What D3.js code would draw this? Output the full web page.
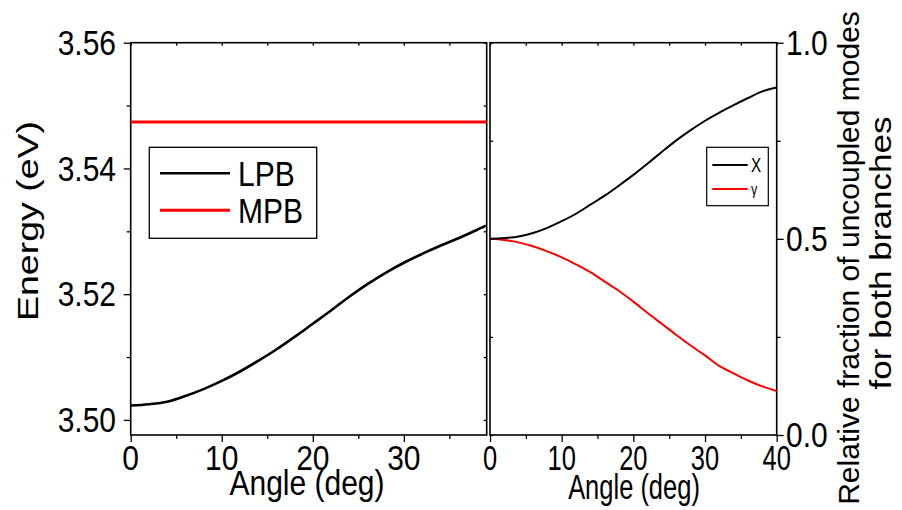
<!DOCTYPE html>
<html>
<head>
<meta charset="utf-8">
<script src="https://cdn.jsdelivr.net/npm/d3@7"></script>
<style>
  body { margin: 0; background: #fff; }
  svg { display: block; }
  text { font-family: "Liberation Sans", Arial, sans-serif; fill: #000; }
</style>
</head>
<body>
<svg id="chart" width="902" height="510"></svg>
<script>
// ---------- DATA ----------
const lpbAngles = [0, 2, 4, 6, 8, 10, 12, 14, 16, 18, 20, 22, 24, 26, 28, 30, 32, 34, 36, 38, 39];
const lpbEnergy = [3.5023, 3.5025, 3.5029, 3.5038, 3.5049, 3.5062, 3.5077, 3.5094, 3.5112, 3.5132,
                   3.5153, 3.5174, 3.5196, 3.5216, 3.5234, 3.5250, 3.5264, 3.5277, 3.5289, 3.5302, 3.5309];
const mpbAngles = [0, 39.1];
const mpbEnergy = [3.5474, 3.5474];

const fracAngles = [0, 2, 4, 6, 8, 10, 12, 14, 16, 18, 20, 22, 24, 26, 28, 30, 32, 34, 36, 38, 40];
const chiValues = [0.500, 0.502, 0.506, 0.515, 0.528, 0.545, 0.564, 0.587, 0.610, 0.636, 0.663,
                   0.692, 0.722, 0.751, 0.777, 0.801, 0.822, 0.841, 0.859, 0.876, 0.886];
const gammaValues = [0.500, 0.497, 0.491, 0.481, 0.468, 0.453, 0.435, 0.415, 0.391, 0.367, 0.340,
                     0.311, 0.283, 0.255, 0.228, 0.203, 0.176, 0.157, 0.139, 0.124, 0.112];

const leftYTicks = [3.50, 3.52, 3.54, 3.56];
const leftYMinor = [3.51, 3.53, 3.55];
const leftXTicks = [0, 10, 20, 30];
const leftXMinor = [5, 15, 25, 35];
const rightYTicks = [0.0, 0.5, 1.0];
const rightYMinor = [0.25, 0.75];
const rightXTicks = [0, 10, 20, 30, 40];
const rightXMinor = [5, 15, 25, 35];

const leftLegend = [{label: "LPB", color: "#000000"}, {label: "MPB", color: "#ff0000"}];
const rightLegend = [{label: "X", color: "#000000"}, {label: "\u03b3", color: "#ff0000"}];

// ---------- LAYOUT ----------
const svg = d3.select("#chart");
const yTop = 42.7, yBot = 435;
const xL = d3.scaleLinear().domain([0, 39.1]).range([130.7, 486.7]);
const yL = d3.scaleLinear().domain([3.4976, 3.56]).range([yBot, yTop]);
const xR = d3.scaleLinear().domain([0, 40]).range([490, 776.7]);
const yR = d3.scaleLinear().domain([0, 1]).range([yBot, yTop]);
const SY = 1.17; // vertical stretch of text

function txt(g, x, y, s, opts) {
  opts = opts || {};
  const sx = opts.sx || 1, sy = opts.sy || SY, rot = opts.rot || 0, size = opts.size || 30;
  return g.append("text")
    .attr("transform", `translate(${x},${y}) rotate(${rot}) scale(${sx},${sy})`)
    .attr("text-anchor", opts.anchor || "middle")
    .attr("dy", opts.dy || "0.35em")
    .style("font-size", size + "px")
    .text(s);
}

function axisStyle(g) {
  g.select(".domain").remove();
  g.selectAll("line").attr("stroke", "#000").attr("stroke-width", 1.3);
}

// ---------- LEFT PANEL ----------
const gl = svg.append("g");
gl.append("rect").attr("x", xL.range()[0]).attr("y", yTop)
  .attr("width", xL.range()[1] - xL.range()[0]).attr("height", yBot - yTop)
  .attr("fill", "none").attr("stroke", "#000").attr("stroke-width", 1.6);

gl.append("g").attr("transform", `translate(${xL.range()[0]},0)`)
  .call(d3.axisLeft(yL).tickValues(leftYTicks).tickSize(7).tickFormat("")).call(axisStyle);
gl.append("g").attr("transform", `translate(${xL.range()[0]},0)`)
  .call(d3.axisLeft(yL).tickValues(leftYMinor).tickSize(4).tickFormat("")).call(axisStyle);
gl.append("g").attr("transform", `translate(${xL.range()[1]},0)`)
  .call(d3.axisLeft(yL).tickValues(leftYTicks.concat(leftYMinor)).tickSize(3).tickFormat("")).call(axisStyle);
gl.append("g").attr("transform", `translate(0,${yBot})`)
  .call(d3.axisBottom(xL).tickValues(leftXTicks).tickSize(7).tickFormat("")).call(axisStyle);
gl.append("g").attr("transform", `translate(0,${yBot})`)
  .call(d3.axisBottom(xL).tickValues(leftXMinor).tickSize(4).tickFormat("")).call(axisStyle);
gl.append("g").attr("transform", `translate(0,${yTop})`)
  .call(d3.axisBottom(xL).tickValues(leftXTicks.concat(leftXMinor)).tickSize(3).tickFormat("")).call(axisStyle);

leftYTicks.forEach(v => txt(gl, 116, yL(v), d3.format(".2f")(v), {anchor: "end"}));
leftXTicks.forEach(v => txt(gl, xL(v), 458, String(v)));
txt(gl, 307, 483, "Angle (deg)");
txt(gl, 27, 221, "Energy (eV)", {rot: -90, sx: 1.25, sy: 1});

const lineL = d3.line().x(d => xL(d[0])).y(d => yL(d[1])).curve(d3.curveMonotoneX);
gl.append("path").datum(mpbAngles.map((a, i) => [a, mpbEnergy[i]]))
  .attr("d", lineL).attr("fill", "none").attr("stroke", "#ff0000").attr("stroke-width", 3);
gl.append("path").datum(lpbAngles.map((a, i) => [a, lpbEnergy[i]]))
  .attr("d", lineL).attr("fill", "none").attr("stroke", "#000").attr("stroke-width", 2.6);

gl.append("rect").attr("x", 149.3).attr("y", 147.3).attr("width", 167.4).attr("height", 91)
  .attr("fill", "#fff").attr("stroke", "#000").attr("stroke-width", 1.3);
leftLegend.forEach((d, i) => {
  const ly = 173.3 + i * 37;
  gl.append("line").attr("x1", 160).attr("x2", 230).attr("y1", ly).attr("y2", ly)
    .attr("stroke", d.color).attr("stroke-width", i === 0 ? 2.6 : 3);
  txt(gl, 238, ly, d.label, {anchor: "start"});
});

// ---------- RIGHT PANEL ----------
const gr = svg.append("g");
gr.append("rect").attr("x", xR.range()[0]).attr("y", yTop)
  .attr("width", xR.range()[1] - xR.range()[0]).attr("height", yBot - yTop)
  .attr("fill", "none").attr("stroke", "#000").attr("stroke-width", 1.6);

gr.append("g").attr("transform", `translate(${xR.range()[1]},0)`)
  .call(d3.axisRight(yR).tickValues(rightYTicks).tickSize(7).tickFormat("")).call(axisStyle);
gr.append("g").attr("transform", `translate(${xR.range()[1]},0)`)
  .call(d3.axisRight(yR).tickValues(rightYMinor).tickSize(4).tickFormat("")).call(axisStyle);
gr.append("g").attr("transform", `translate(${xR.range()[0]},0)`)
  .call(d3.axisRight(yR).tickValues(rightYTicks.concat(rightYMinor)).tickSize(3).tickFormat("")).call(axisStyle);
gr.append("g").attr("transform", `translate(0,${yBot})`)
  .call(d3.axisBottom(xR).tickValues(rightXTicks).tickSize(7).tickFormat("")).call(axisStyle);
gr.append("g").attr("transform", `translate(0,${yBot})`)
  .call(d3.axisBottom(xR).tickValues(rightXMinor).tickSize(4).tickFormat("")).call(axisStyle);
gr.append("g").attr("transform", `translate(0,${yTop})`)
  .call(d3.axisBottom(xR).tickValues(rightXTicks.concat(rightXMinor)).tickSize(3).tickFormat("")).call(axisStyle);

rightYTicks.forEach(v => txt(gr, 786, yR(v), d3.format(".1f")(v), {anchor: "start"}));
rightXTicks.forEach(v => txt(gr, xR(v), 458, String(v), {sx: 0.85}));
txt(gr, 634, 487, "Angle (deg)", {sx: 0.85});
txt(gr, 848, 258, "Relative fraction of uncoupled modes", {rot: -90, sx: 1.0, sy: 1});
txt(gr, 880, 253, "for both branches", {rot: -90, sx: SY, sy: 1});

const lineR = d3.line().x(d => xR(d[0])).y(d => yR(d[1])).curve(d3.curveMonotoneX);
gr.append("path").datum(fracAngles.map((a, i) => [a, gammaValues[i]]))
  .attr("d", lineR).attr("fill", "none").attr("stroke", "#ff0000").attr("stroke-width", 2);
gr.append("path").datum(fracAngles.map((a, i) => [a, chiValues[i]]))
  .attr("d", lineR).attr("fill", "none").attr("stroke", "#000").attr("stroke-width", 2);

gr.append("rect").attr("x", 706.7).attr("y", 147.3).attr("width", 61.6).attr("height", 58.4)
  .attr("fill", "#fff").attr("stroke", "#000").attr("stroke-width", 1.2);
rightLegend.forEach((d, i) => {
  const ly = 165 + i * 24;
  gr.append("line").attr("x1", 712.3).attr("x2", 747.7).attr("y1", ly).attr("y2", ly)
    .attr("stroke", d.color).attr("stroke-width", 1.8);
  txt(gr, 751, ly, d.label, {anchor: "start", size: i === 0 ? 18 : 15, sx: 0.85, sy: 1.1});
});
</script>
</body>
</html>
